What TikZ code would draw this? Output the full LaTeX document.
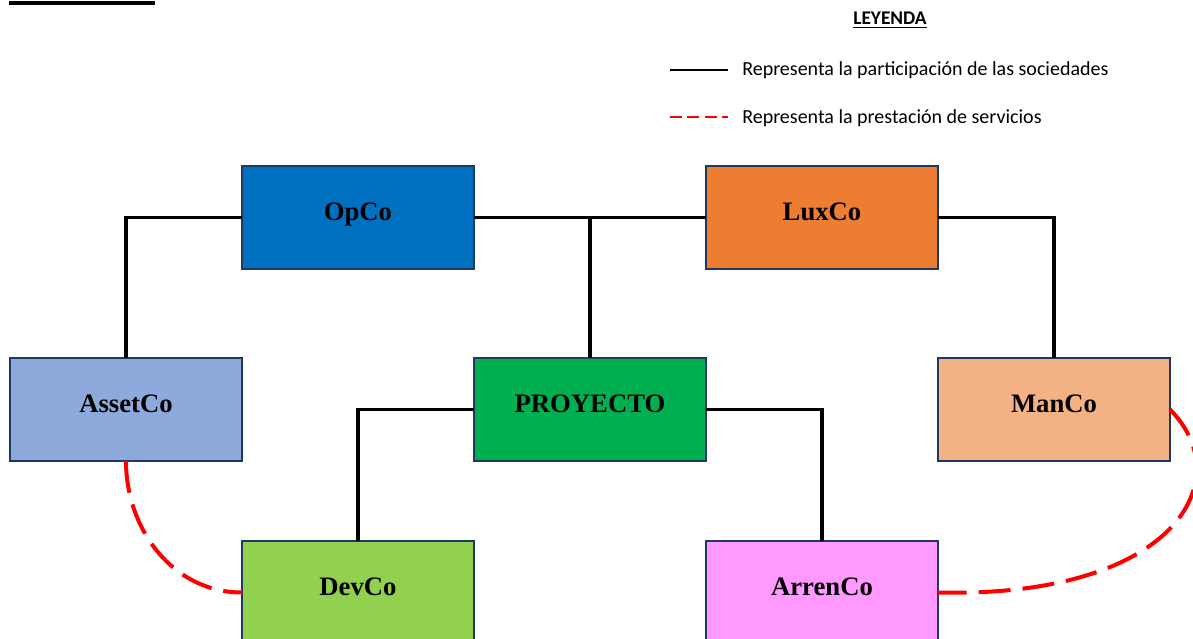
\documentclass[tikz,border=0pt]{standalone}
\usepackage{fontspec}
\setmainfont{Liberation Serif}
\newfontfamily\leyendafont{Carlito}
\usepackage{xcolor}
\usepackage{tikz}
\usetikzlibrary{positioning}
\definecolor{cborde}{HTML}{1F3864}
\definecolor{copco}{HTML}{0070C0}
\definecolor{cluxco}{HTML}{ED7D31}
\definecolor{casset}{HTML}{8EA9DB}
\definecolor{cproyecto}{HTML}{00B050}
\definecolor{cmanco}{HTML}{F4B183}
\definecolor{cdevco}{HTML}{92D050}
\definecolor{carrenco}{HTML}{FF99FF}
\tikzset{
  sociedad/.style={rectangle, draw=cborde, fill=#1, line width=1.5pt,
                   minimum width=174pt, minimum height=77.25pt, inner sep=0pt,
                   outer sep=0pt, text height=14pt, text depth=10pt,
                   font=\bfseries\fontsize{20}{24}\selectfont},
  participa/.style={line width=2.6pt, draw=black},
  servicio/.style={line width=3pt, draw=red, dash pattern=on 24pt off 9pt},
  leyenda/.style={anchor=west, inner sep=0pt, font=\leyendafont\fontsize{15}{18}\selectfont},
}

\begin{document}
\begin{tikzpicture}[x=0.75pt, y=-0.75pt]
        \useasboundingbox (0,0) rectangle (1193,639);
        \clip (0,0) rectangle (1193,639);
        \fill (9,1) rectangle (155,5);

        % leyenda
        \node[leyenda, anchor=center, font=\leyendafont\bfseries\fontsize{14.5}{17}\selectfont] (titulo) at (890,20) {\underline{LEYENDA}};
        \coordinate (l1a) at (670,70);
        \coordinate (l1b) at (728,70);
        \coordinate (l2a) at (670,117);
        \coordinate (l2b) at (728,117);
        \node[leyenda] (txtpart) at (742,70) {Representa la participación de las sociedades};
        \node[leyenda] (txtserv) at (742,118) {Representa la prestación de servicios};
        \draw[line width=1.2pt] (l1a) -- (l1b);
        \draw[red, line width=1.5pt, dash pattern=on 9pt off 4pt] (l2a) -- (l2b);

        % sociedades
        \node[sociedad=copco] (opco) at (358,217.5) {OpCo};
        \node[sociedad=cluxco, right=174pt of opco] (luxco) {LuxCo};
        \node[sociedad=casset, below left=66.75pt and 0pt of opco] (assetco) {AssetCo};
        \node[sociedad=cproyecto, below right=66.75pt and 0pt of opco] (proyecto) {PROYECTO};
        \node[sociedad=cmanco, below right=66.75pt and 0pt of luxco] (manco) {ManCo};
        \node[sociedad=cdevco, below left=60pt and 0pt of proyecto] (devco) {DevCo};
        \node[sociedad=carrenco, below right=60pt and 0pt of proyecto] (arrenco) {ArrenCo};

        \draw[participa] (opco.west) -| (assetco.north);
        \draw[participa] (opco.east) -- (luxco.west);
        \draw[participa] (luxco.east) -| (manco.north);
        \draw[participa] (proyecto.north) -- (proyecto.north |- opco.east);
        \draw[participa] (proyecto.west) -| (devco.north);
        \draw[participa] (proyecto.east) -| (arrenco.north);

        \draw[servicio] (assetco.south) to[out=-90, in=180] (devco.west);
        \draw[servicio] (manco.east) .. controls (1240,480) and (1175,598) .. (arrenco.east);
    \end{tikzpicture}
\end{document}
